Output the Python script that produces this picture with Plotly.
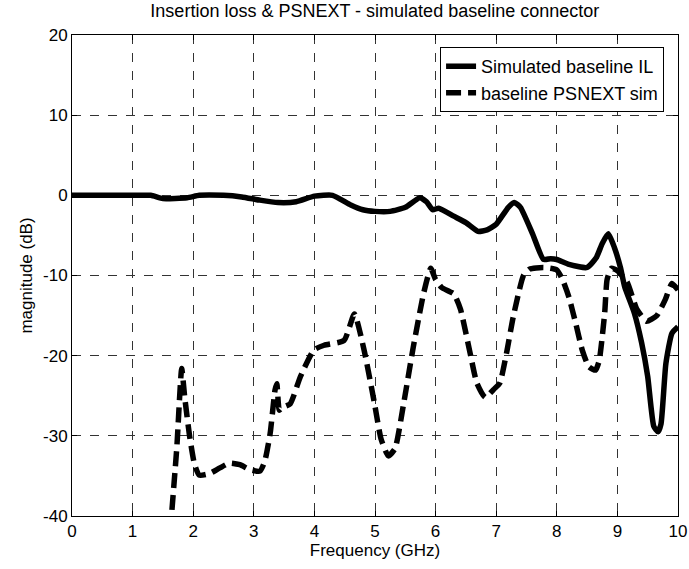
import plotly.graph_objects as go

il_freq = [0, 0.5, 1, 1.3, 1.5, 1.9, 2.1, 2.5, 2.8, 3.1, 3.4, 3.7, 4.0, 4.3, 4.6, 4.8, 5.0,
           5.25, 5.5, 5.74, 5.85, 5.95, 6.05, 6.3, 6.5, 6.7, 6.85, 7.0, 7.2, 7.3, 7.4, 7.6,
           7.78, 7.9, 8.0, 8.2, 8.5, 8.65, 8.75, 8.85, 8.95, 9.05, 9.12, 9.28, 9.4, 9.5,
           9.6, 9.67, 9.72, 9.8, 9.9, 10]
il_db = [0, 0, 0, 0, -0.4, -0.3, 0, 0, -0.2, -0.6, -0.9, -0.8, -0.1, 0, -1.2, -1.8, -2.0,
         -2.0, -1.5, -0.3, -0.8, -1.8, -1.6, -2.6, -3.4, -4.5, -4.3, -3.6, -1.5, -0.9, -1.5, -4.8,
         -8.0, -7.9, -8.0, -8.6, -9.0, -7.8, -6.0, -4.8, -6.5, -9.0, -11.4, -14.7, -18.4, -22.6,
         -28.8, -29.5, -28.5, -21.0, -17.2, -16.4]

ps_freq = [1.62, 1.73, 1.81, 1.86, 1.94, 2.02, 2.1, 2.27, 2.44, 2.6, 2.77, 2.93, 3.1, 3.18,
           3.27, 3.35, 3.38, 3.42, 3.46, 3.6, 3.77, 3.99, 4.16, 4.49, 4.66, 4.82, 4.99, 5.1,
           5.22, 5.33, 5.47, 5.63, 5.8, 5.92, 6.0, 6.1, 6.3, 6.41, 6.57, 6.68, 6.82, 6.96,
           7.06, 7.17, 7.28, 7.45, 7.55, 7.78, 8.0, 8.1, 8.2, 8.31, 8.42, 8.53, 8.64, 8.7,
           8.79, 8.83, 8.9, 9.0, 9.16, 9.32, 9.48, 9.65, 9.79, 9.9, 10]
ps_db = [-42, -31.4, -21.6, -25.2, -30.0, -33.5, -34.9, -34.7, -34.0, -33.4, -33.6, -34.2, -34.4, -33.2,
         -29.7, -24.3, -23.5, -26.8, -26.5, -26.0, -22.6, -19.3, -18.7, -18.1, -14.8, -19.3, -25.9, -30.4,
         -32.5, -31.6, -26.1, -19.0, -12.3, -9.1, -10.5, -11.5, -12.3, -14.2, -19.7, -23.4, -25.2, -24.2,
         -23.4, -19.7, -15.2, -10.0, -9.2, -9.0, -9.3, -10.6, -12.7, -15.9, -19.3, -21.4, -21.8, -20.6,
         -14.7, -10.5, -9.1, -9.4, -10.8, -14.2, -15.7, -15.0, -13.0, -11.0, -11.8]

x_ticks = list(range(0, 11))
x_labels = [str(v) for v in x_ticks]
y_ticks = [-40, -30, -20, -10, 0, 10, 20]
y_labels = ["-40", "-30", "-20", "-10", "0", "10", "20"]

fig = go.Figure()
fig.add_trace(go.Scatter(x=il_freq, y=il_db, mode="lines", name="Simulated baseline IL",
                         line=dict(color="black", width=5.5, shape="spline", smoothing=0.5)))
fig.add_trace(go.Scatter(x=ps_freq, y=ps_db, mode="lines", name="baseline PSNEXT sim",
                         line=dict(color="black", width=5.5, dash="15px,7px", shape="spline", smoothing=0.5)))

axis_common = dict(
    showline=True, linecolor="black", linewidth=1, mirror="allticks",
    ticks="inside", ticklen=5, tickcolor="black", automargin=False,
    showgrid=True, gridcolor="#333333", gridwidth=1, griddash="dash",
    zeroline=False, tickfont=dict(size=17, color="black", family="Liberation Sans, Arial"),
)

fig.update_xaxes(range=[0, 10], tickvals=x_ticks, ticktext=x_labels,
                 title=dict(text="Frequency (GHz)", standoff=2, font=dict(size=17, color="black")),
                 **axis_common)
fig.update_yaxes(range=[-40, 20], tickvals=y_ticks, ticktext=y_labels,
                 title=dict(text="magnitude (dB)", standoff=6, font=dict(size=17, color="black")),
                 **axis_common)

fig.update_layout(
    width=689, height=569,
    margin=dict(l=72, r=11, t=35, b=53),
    paper_bgcolor="white", plot_bgcolor="white",
    font=dict(family="Liberation Sans, Arial", color="black"),
    title=dict(text="Insertion loss & PSNEXT - simulated baseline connector", x=0.544, xanchor="center",
               xref="container", y=0.992, yanchor="top", font=dict(size=18, color="black")),
    legend=dict(x=0.977, y=0.975, xanchor="right", yanchor="top", bgcolor="white",
                bordercolor="black", borderwidth=1, font=dict(size=18, color="black"),
                tracegroupgap=0),
    showlegend=True,
)

fig.write_html("out.html", config={"displayModeBar": False},
               post_script="document.body.style.margin='0px';")
